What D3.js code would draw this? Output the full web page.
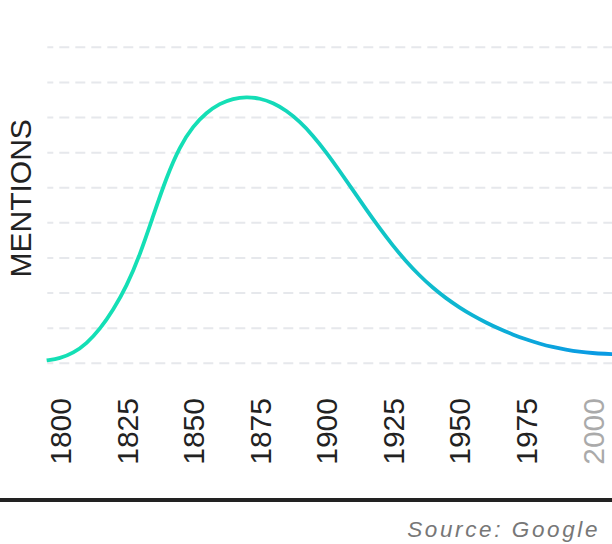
<!DOCTYPE html>
<html>
<head>
<meta charset="utf-8">
<script src="https://cdn.jsdelivr.net/npm/d3@7"></script>
<style>
  html, body { margin: 0; padding: 0; background: #fff; }
  svg { display: block; }
</style>
</head>
<body>
<svg id="chart" width="612" height="544"></svg>
<script>
// ---- data ----
const years = [1795, 1800, 1805, 1810, 1815, 1820, 1825, 1830, 1835, 1840, 1845, 1850, 1855, 1860, 1865, 1870, 1875, 1880, 1885, 1890, 1895, 1900, 1905, 1910, 1915, 1920, 1925, 1930, 1935, 1940, 1945, 1950, 1955, 1960, 1965, 1970, 1975, 1980, 1985, 1990, 1995, 2000, 2005, 2008];
const mentions = [0.08, 0.14, 0.29, 0.56, 0.97, 1.52, 2.19, 3.08, 4.20, 5.30, 6.18, 6.76, 7.14, 7.40, 7.54, 7.59, 7.55, 7.42, 7.20, 6.89, 6.49, 6.01, 5.48, 4.93, 4.38, 3.85, 3.35, 2.90, 2.50, 2.15, 1.85, 1.59, 1.36, 1.16, 0.98, 0.82, 0.68, 0.56, 0.46, 0.39, 0.33, 0.29, 0.27, 0.26];
const tickYears = [1800, 1825, 1850, 1875, 1900, 1925, 1950, 1975, 2000];
const tickLabels = ["1800", "1825", "1850", "1875", "1900", "1925", "1950", "1975", "2000"];
const gridLevels = [0, 1, 2, 3, 4, 5, 6, 7, 8, 9];
const yTitle = "MENTIONS";
const sourceText = "Source: Google";

// ---- layout ----
const svg = d3.select("#chart");
const W = 612;
const x = d3.scaleLinear().domain([1795.5, 2007.3]).range([48, 612]);
const y = d3.scaleLinear().domain([0, 9]).range([363.3, 47.3]);

// gradient
const defs = svg.append("defs");
const grad = defs.append("linearGradient")
  .attr("id", "lineGrad")
  .attr("gradientUnits", "userSpaceOnUse")
  .attr("x1", x(1870)).attr("y1", 0)
  .attr("x2", x(2000)).attr("y2", 0);
grad.append("stop").attr("offset", "0%").attr("stop-color", "#14dfb5");
grad.append("stop").attr("offset", "100%").attr("stop-color", "#0a9be3");

// gridlines
svg.append("g").selectAll("line")
  .data(gridLevels)
  .join("line")
  .attr("x1", 47.3).attr("x2", W)
  .attr("y1", d => y(d)).attr("y2", d => y(d))
  .attr("stroke", "#e6e8ec")
  .attr("stroke-width", 2)
  .attr("stroke-dasharray", "10,6")
  .attr("stroke-dashoffset", 4);

// line
const pts = years.map((yr, i) => [yr, mentions[i]]);
const line = d3.line()
  .x(d => x(d[0]))
  .y(d => y(d[1]))
  .curve(d3.curveBasis);
svg.append("path")
  .datum(pts)
  .attr("d", line)
  .attr("fill", "none")
  .attr("stroke", "url(#lineGrad)")
  .attr("stroke-width", 3.8)
  .attr("stroke-linecap", "butt");

// x axis
const xAxis = d3.axisBottom(x)
  .tickValues(tickYears)
  .tickFormat((d, i) => tickLabels[i])
  .tickSize(0);
const gx = svg.append("g")
  .attr("transform", "translate(0,398)")
  .call(xAxis);
gx.select(".domain").remove();
gx.selectAll("text")
  .attr("transform", "rotate(-90)")
  .attr("x", 0).attr("y", 0)
  .attr("dy", "0.35em")
  .attr("text-anchor", "end")
  .attr("font-family", "'Liberation Sans', Arial, Helvetica, sans-serif")
  .attr("font-size", 30)
  .attr("fill", (d, i) => i === tickYears.length - 1 ? "#aaaaaa" : "#222222");

// y title
svg.append("text")
  .attr("transform", `translate(30.5,198.3) rotate(-90)`)
  .attr("text-anchor", "middle")
  .attr("font-family", "'Liberation Sans', Arial, Helvetica, sans-serif")
  .attr("font-size", 30)
  .attr("fill", "#222")
  .text(yTitle);

// bottom rule
svg.append("line")
  .attr("x1", 0).attr("x2", W)
  .attr("y1", 500).attr("y2", 500)
  .attr("stroke", "#222")
  .attr("stroke-width", 4);

// source
svg.append("text")
  .attr("x", 600).attr("y", 537)
  .attr("text-anchor", "end")
  .attr("font-family", "'Liberation Sans', Arial, Helvetica, sans-serif")
  .attr("font-style", "italic")
  .attr("font-size", 22.5)
  .attr("letter-spacing", "2.6px")
  .attr("fill", "#777")
  .text(sourceText);
</script>
</body>
</html>
